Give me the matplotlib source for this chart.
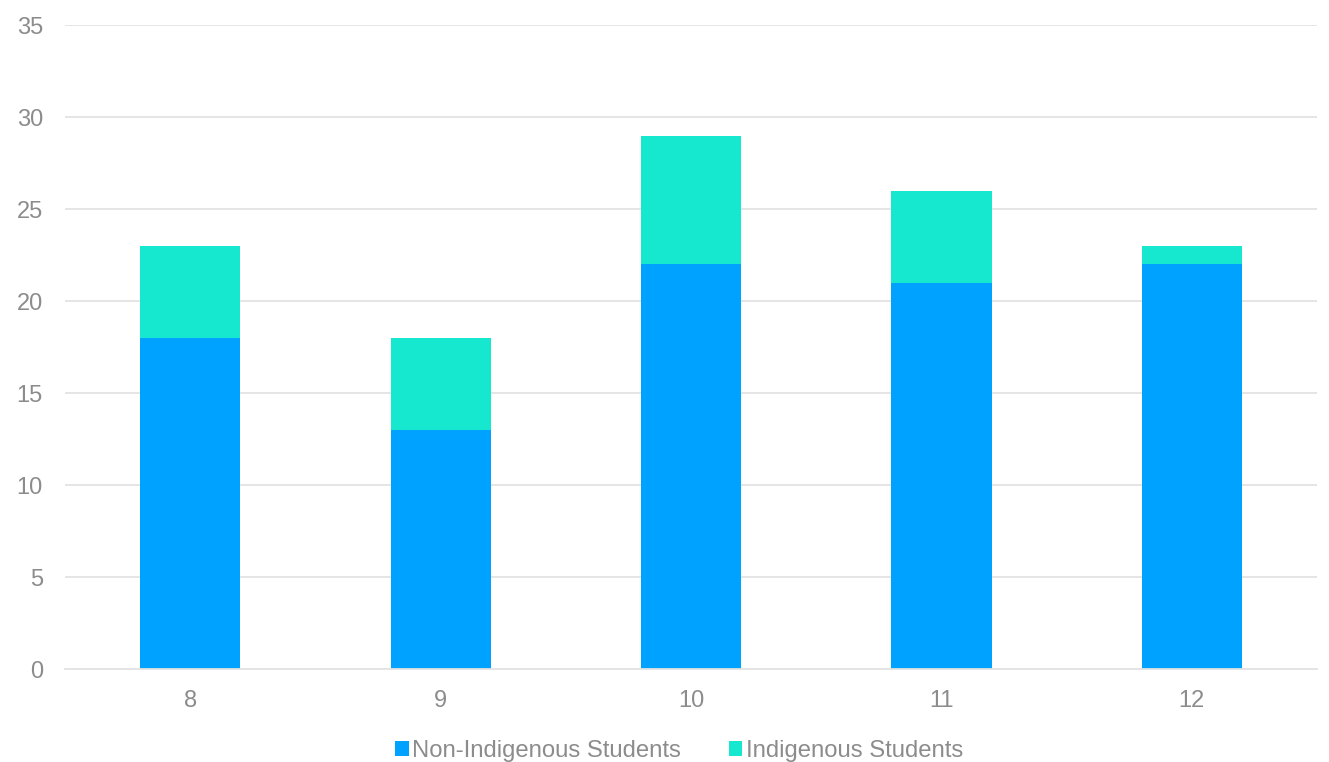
import matplotlib.pyplot as plt
import numpy as np

plt.rcParams['font.family'] = ['Liberation Sans', 'DejaVu Sans']

# data
grades = ['8', '9', '10', '11', '12']
non_indigenous = np.array([18, 13, 22, 21, 22])
indigenous = np.array([5, 5, 7, 5, 1])

blue = '#00A2FF'
teal = '#16E7CF'
txt = '#8C8C8C'

fig = plt.figure(figsize=(13.29, 7.62), dpi=100)
ax = fig.add_axes([0.049, 0.122, 0.942, 0.845])

x = np.arange(len(grades))
ax.bar(x, non_indigenous, width=0.4, color=blue, label='Non-Indigenous Students', zorder=2)
ax.bar(x, indigenous, width=0.4, bottom=non_indigenous, color=teal, label='Indigenous Students', zorder=2)

ax.set_xlim(-0.5, len(grades) - 0.5)
ax.set_ylim(0, 35)
ax.set_yticks(np.arange(0, 36, 5))
ax.set_xticks(x)
ax.set_xticklabels(grades)
ax.grid(axis='y', color='#E3E3E3', linewidth=1.3, zorder=0)
for s in ['top', 'right', 'left']:
    ax.spines[s].set_visible(False)
ax.spines['bottom'].set_color('#E3E3E3')
ax.spines['bottom'].set_linewidth(1.3)
ax.tick_params(axis='both', length=0, colors=txt, labelsize=17)
ax.tick_params(axis='y', pad=16)
ax.tick_params(axis='x', pad=15)

leg = fig.legend(loc='lower center', bbox_to_anchor=(0.511, -0.028), ncol=2, frameon=False,
                 fontsize=17.2, handlelength=0.55, handleheight=0.55, handletextpad=0.15,
                 columnspacing=2.0)
for t in leg.get_texts():
    t.set_color(txt)

fig.savefig('out.png', dpi=100)
